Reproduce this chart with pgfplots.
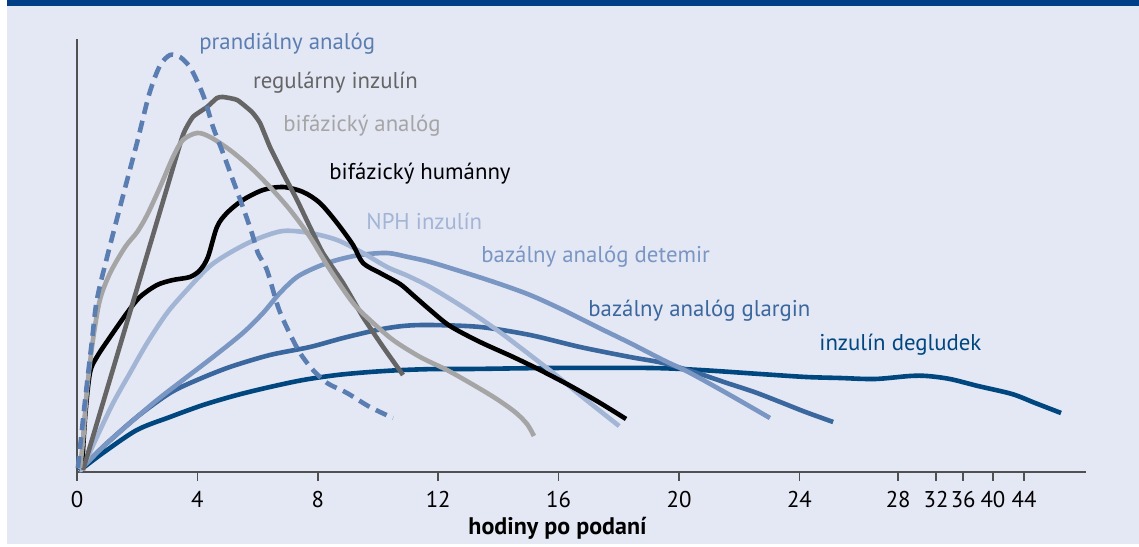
\documentclass[border=0pt]{standalone}
\usepackage{fontspec}
\setmainfont{PT Sans}
\usepackage{pgfplots}
\pgfplotsset{compat=1.18}
\definecolor{bgc}{HTML}{E4E7F4}
\definecolor{band}{HTML}{003F87}
\definecolor{cpran}{HTML}{5B7EB2}
\definecolor{creg}{HTML}{656565}
\definecolor{cbia}{HTML}{A5A5A5}
\definecolor{cnph}{HTML}{A2B5D5}
\definecolor{cdet}{HTML}{7A96C3}
\definecolor{cgla}{HTML}{3A679D}
\definecolor{cdeg}{HTML}{00467F}
\definecolor{caxis}{HTML}{505050}
\begin{document}
\begin{tikzpicture}
\path (0,0) rectangle (569.5pt,272pt);
\fill[bgc] (3.5pt,0) rectangle (569.5pt,272pt);
\fill[band] (3.5pt,269pt) rectangle (569.5pt,272pt);
\begin{axis}[
  at={(38.5pt,36pt)}, anchor=south west,
  scale only axis, width=504.5pt, height=216.5pt,
  xmin=0, xmax=33.52, ymin=0, ymax=433,
  axis x line=bottom, axis y line=left,
  axis line style={-, draw=caxis, line width=0.75pt},
  clip=false,
  ytick=\empty,
  xtick={0,4,8,12,16,20,24,27.28,28.54,29.44,30.43,31.46},
  xticklabels={0,4,8,12,16,20,24,28,32,36,40,44},
  tick align=outside, major tick length=4.5pt,
  xtick style={draw=caxis, line width=0.75pt},
  /pgf/number format/assume math mode=true,
  xticklabel style={font=\fontsize{11.4}{13}\selectfont, anchor=base, yshift=-13.5pt},
  xlabel={\bfseries hodiny po podaní},
  xlabel style={at={(axis description cs:0.4762,0)}, anchor=base, yshift=-31.5pt, font=\fontsize{12}{14}\selectfont},
  every axis plot/.append style={line width=2.3pt, smooth, tension=0.5, line join=round},
]
% degludec
\addplot[cdeg, line cap=butt] coordinates {
(0.1,1) (0.2,4) (0.86,19) (1.99,42) (3.09,55) (4.19,67) (5.32,77) (6.41,85) (7.51,92) (8.64,97) (9.73,100) (10.83,102) (11.96,103) (13.06,103) (15.71,104) (19.04,104) (20.70,102) (22.69,98) (24.22,95) (25.35,94) (26.51,93) (27.67,96) (28.24,96) (29.00,93) (29.93,86) (31.06,78) (31.83,69) (32.69,59)};
% glargin
\addplot[cgla] coordinates {
(0.1,2) (0.2,5) (0.86,25) (1.99,55) (3.09,79) (3.99,92) (5.08,105) (6.41,117) (7.74,125) (8.84,134) (9.97,142) (10.83,146) (11.73,147) (13.39,145) (15.05,137) (16.71,125) (18.37,115) (19.47,109) (20.60,99) (21.59,89) (22.5,80) (23.36,70) (24.2,60) (25.12,50)};
% detemir
\addplot[cdet] coordinates {
(0.1,2) (0.2,5) (0.86,25) (1.76,49) (2.66,72) (3.52,92) (4.52,115) (5.51,139) (6.18,159) (6.74,179) (7.31,195) (7.97,205) (8.64,212) (9.40,217) (10.30,219) (11.0,215) (11.73,210) (12.82,200) (13.95,189) (15.05,177) (16.15,162) (17.28,145) (18.37,129) (19.47,112) (20.37,99) (21.69,77) (23.02,54)};
% NPH
\addplot[cnph] coordinates {
(0.1,2) (0.2,5) (0.66,35) (1.20,69) (1.76,99) (2.33,129) (2.99,159) (3.65,182) (4.42,206) (5.18,221) (5.98,233) (6.84,241) (7.74,239) (8.64,232) (9.50,219) (10.30,205) (11.0,196) (11.73,185) (12.82,165) (13.95,142) (15.05,117) (15.95,96) (16.71,77) (18.01,46)};
% bifazicky humanny
\addplot[black] coordinates {
(0.17,5) (0.27,55) (0.43,99) (0.66,115) (1.10,135) (1.66,159) (2.09,175) (2.66,187) (3.19,192) (3.75,195) (4.09,202) (4.35,215) (4.65,245) (4.98,259) (5.51,272) (6.18,282) (6.84,285) (7.51,280) (8.07,269) (8.64,249) (9.17,227) (9.50,209) (10.07,199) (10.73,188) (11.16,177) (11.73,162) (12.39,146) (13.39,130) (14.49,115) (15.38,102) (16.4,86) (17.38,69) (18.24,53)};
% regularny
\addplot[creg, tension=0.3] coordinates {
(0.2,2) (1.0,83) (2.0,184) (3.0,285) (3.52,337) (3.85,355) (4.32,365) (4.65,374) (4.85,375) (5.32,372) (5.81,360) (6.08,349) (6.41,325) (6.84,299) (7.31,272) (7.74,245) (8.17,219) (8.84,189) (9.50,155) (10.17,125) (10.83,97)};
% bifazicky analog
\addplot[cbia] coordinates {
(0.1,4) (0.2,32) (0.33,82) (0.53,132) (0.76,172) (1.10,199) (1.6,225) (2.0,240) (2.33,257) (2.76,285) (3.19,315) (3.52,332) (3.99,339) (4.42,335) (5.08,322) (5.75,305) (6.41,285) (7.08,262) (7.74,235) (8.41,202) (9.17,169) (9.73,152) (10.50,132) (11.40,115) (12.29,102) (13.06,89) (13.89,74) (14.55,60) (14.95,48) (15.18,36)};
% prandialny analog
\addplot[cpran, dash pattern=on 6pt off 3.5pt] coordinates {
(0.03,4) (0.27,72) (0.50,132) (0.66,172) (1.0,215) (1.5,273) (2.0,330) (2.4,378) (2.75,406) (3.09,417) (3.42,415) (3.75,405) (4.02,389) (4.25,372) (4.52,345) (4.85,319) (5.18,292) (5.51,265) (5.81,239) (6.01,219) (6.31,202) (6.68,165) (7.01,142) (7.41,119) (7.84,102) (8.31,89) (8.97,79) (9.73,65) (10.50,54)};
\end{axis}
\begin{scope}[every node/.style={anchor=base west, inner sep=0pt, font=\fontsize{11.4}{13}\selectfont}]
\node[text=cpran] at (99.5pt,247pt) {prandiálny analóg};
\node[text=creg] at (126.3pt,227.8pt) {regulárny inzulín};
\node[text=cbia] at (141.5pt,206.2pt) {bifázický analóg};
\node[text=black] at (164.5pt,182pt) {bifázický humánny};
\node[text=cnph] at (183pt,157pt) {NPH inzulín};
\node[text=cdet] at (240.5pt,140.5pt) {bazálny analóg detemir};
\node[text=cgla] at (294pt,113.5pt) {bazálny analóg glargin};
\node[text=cdeg] at (409.5pt,96.5pt) {inzulín degludek};
\end{scope}
\end{tikzpicture}
\end{document}
